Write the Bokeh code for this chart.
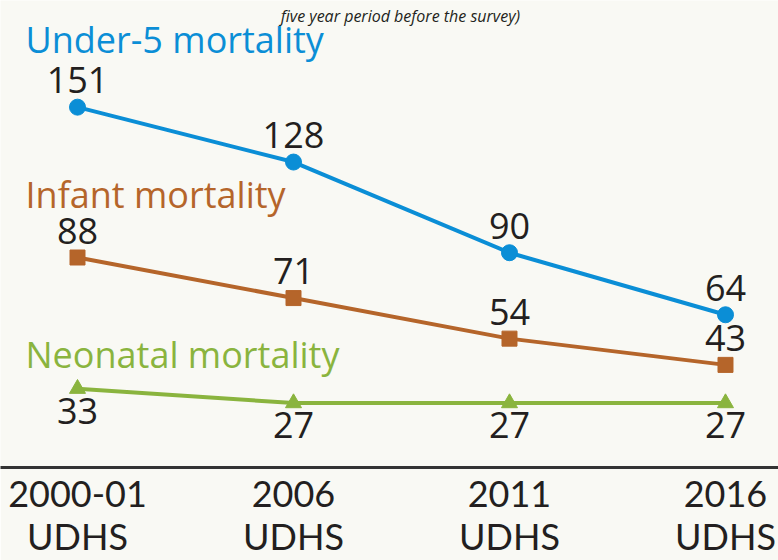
from bokeh.plotting import figure
from bokeh.models import Range1d, FixedTicker, ColumnDataSource, Label
from bokeh.core.properties import value
from bokeh.embed import file_html
from bokeh.resources import INLINE

surveys = ["2000-01\nUDHS", "2006\nUDHS", "2011\nUDHS", "2016\nUDHS"]
under5 = [151, 128, 90, 64]
infant = [88, 71, 54, 43]
neonatal = [33, 27, 27, 27]
subtitle = "five year period before the survey)"

BG = "#f9f9f4"
BLUE = "#0b8ed6"
BROWN = "#b5652a"
GREEN = "#8ab43e"
TXT = "#231f20"
FONT = "Open Sans"
AXIS_FONT = "Lato"

xs = list(range(len(surveys)))

p = figure(width=778, height=560, output_backend="svg", toolbar_location=None,
           x_range=Range1d(-0.3565, 3.2454), y_range=Range1d(0, 195.7),
           min_border_left=0, min_border_right=0, min_border_top=0, min_border_bottom=92,
           background_fill_color=BG, border_fill_color=BG, outline_line_color=None)
p.grid.visible = False
p.yaxis.visible = False

ax = p.xaxis[0]
ax.ticker = FixedTicker(ticks=xs)
ax.major_label_overrides = {i: s for i, s in zip(xs, surveys)}
ax.major_tick_out = 0
ax.major_tick_in = 0
ax.minor_tick_out = 0
ax.minor_tick_in = 0
ax.axis_line_width = 3
ax.axis_line_color = "#333333"
ax.major_label_text_font = AXIS_FONT
ax.major_label_text_font_size = "36px"
ax.major_label_text_line_height = 0.98
ax.major_label_text_color = TXT
ax.major_label_standoff = 3

series = [
    ("Under-5 mortality", under5, BLUE, "circle", 16, -27, 179.4),
    ("Infant mortality", infant, BROWN, "square", 15, -27, 114.6),
    ("Neonatal mortality", neonatal, GREEN, "triangle", 16, 22, 47.3),
]

for name, vals, col, marker, msize, yoff, ly in series:
    src = ColumnDataSource(dict(x=xs, y=vals, t=[str(v) for v in vals]))
    p.line("x", "y", source=src, line_color=col, line_width=4)
    p.scatter("x", "y", source=src, marker=marker, size=msize, fill_color=col, line_color=col)
    p.text("x", "y", text="t", source=src, x_offset=0, y_offset=yoff,
           text_align="center", text_baseline="alphabetic",
           text_font=value(FONT), text_font_size="36px", text_color=TXT)
    p.add_layout(Label(x=-0.2407, y=ly, text=name, text_font=FONT,
                       text_font_size="36px", text_color=col,
                       text_baseline="alphabetic", text_align="left"))

p.add_layout(Label(x=1.495, y=189.0, text=subtitle, text_font=FONT,
                   text_font_style="italic", text_font_size="16px", text_color=TXT,
                   text_baseline="alphabetic", text_align="center"))

html = file_html(p, INLINE)
html = html.replace("<body>", '<body style="background:%s">' % BG, 1)
open("out.html", "w").write(html)
